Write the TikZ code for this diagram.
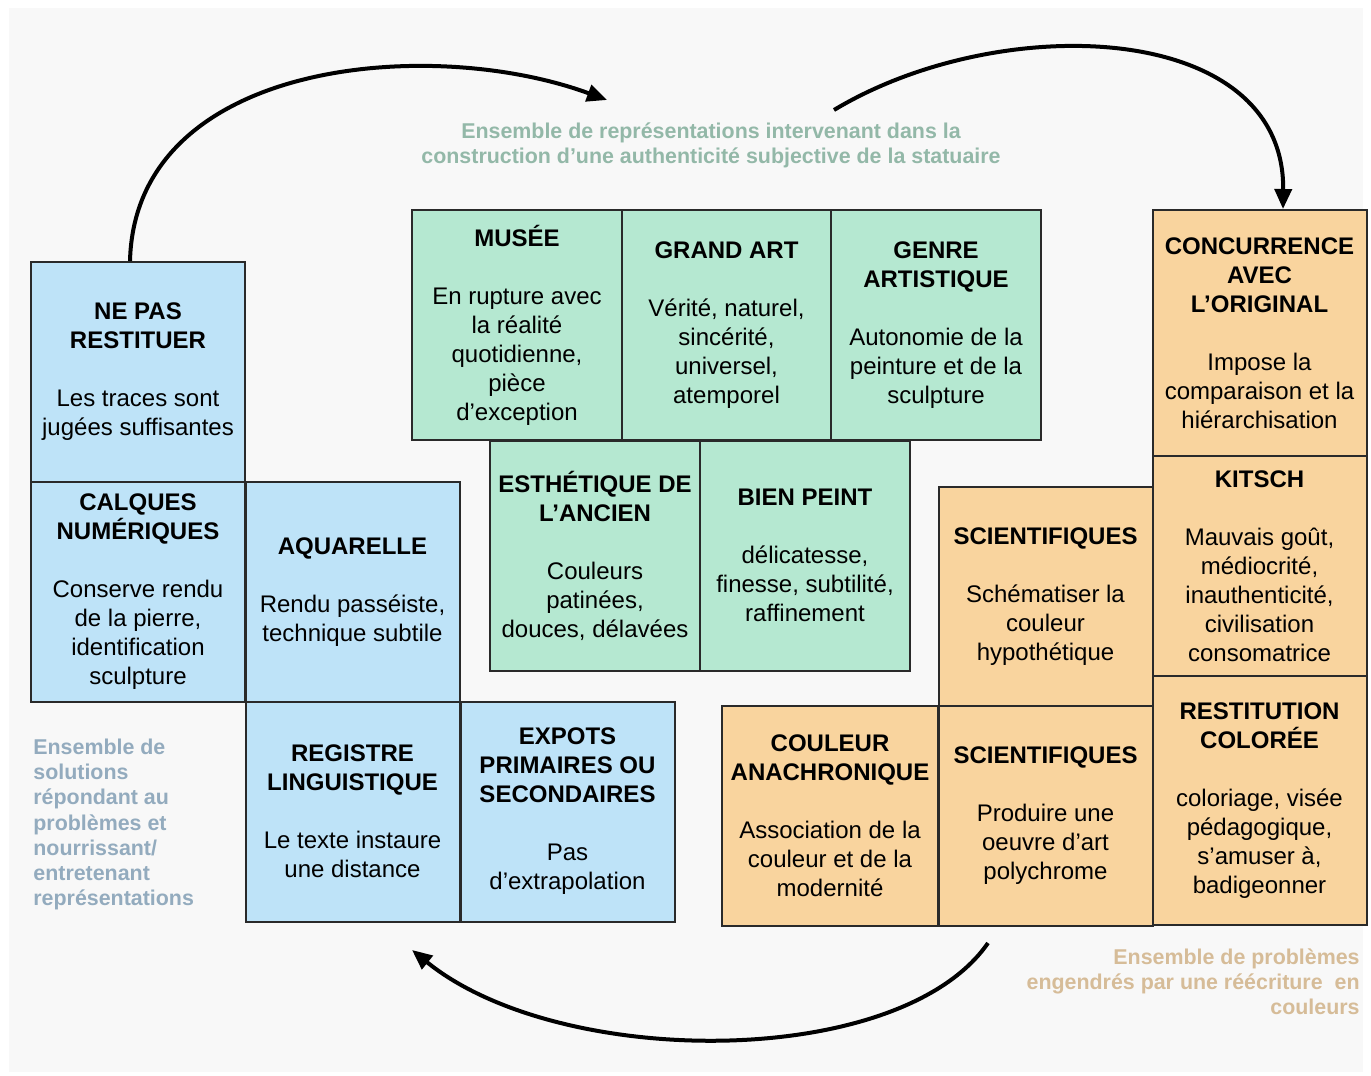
\documentclass[tikz,border=0pt]{standalone}
\usepackage{fontspec}
\setmainfont{Liberation Sans}
\usepackage{tikz}
\usetikzlibrary{arrows.meta}
\definecolor{repfill}{HTML}{B5E8D1}
\definecolor{solfill}{HTML}{BEE3F8}
\definecolor{profill}{HTML}{F9D49E}
\definecolor{repcap}{HTML}{93B8A8}
\definecolor{solcap}{HTML}{93ABBE}
\definecolor{procap}{HTML}{D6BC98}
\definecolor{edge}{HTML}{2A2A2A}
\definecolor{paper}{HTML}{F8F8F8}

\begin{document}
\begin{tikzpicture}[
  x=0.5pt, y=-0.5pt,
  every node/.style={font=\fontsize{12}{14.5}\selectfont},
  cellbox/.style={
    draw=edge, line width=1pt, inner sep=0pt, align=center,
    minimum width=105pt, minimum height=110pt,
  },
  repbox/.style={cellbox, fill=repfill, minimum height=115pt},
  solbox/.style={cellbox, fill=solfill, minimum width=107pt},
  probox/.style={cellbox, fill=profill, minimum width=107pt},
  caption/.style={font=\fontsize{10.7}{12.6}\selectfont\bfseries, inner sep=0pt},
  cycle/.style={-{Triangle[length=10pt,width=8.5pt]}, line width=2pt, draw=black},
]
  \useasboundingbox (0,0) rectangle (1371,1076);
  \fill[white] (0,0) rectangle (1371,1076);
  \fill[paper] (9,8) rectangle (1363,1072);

  % representations
  \node[repbox] (musee)      at (517,   325)   {\textbf{MUSÉE}\\[14.5pt]En rupture avec\\la réalité\\quotidienne,\\pièce\\d’exception};
  \node[repbox] (grandart)   at (726.5, 325)   {\textbf{GRAND ART}\\[14.5pt]Vérité, naturel,\\sincérité,\\universel,\\atemporel};
  \node[repbox] (genre)      at (936,   325)   {\textbf{GENRE}\\\textbf{ARTISTIQUE}\\[14.5pt]Autonomie de la\\peinture et de la\\sculpture};
  \node[repbox] (esthetique) at (595,   555.5) {\textbf{ESTHÉTIQUE DE}\\\textbf{L’ANCIEN}\\[14.5pt]Couleurs\\patinées,\\douces, délavées};
  \node[repbox] (bienpeint)  at (805,   555.5) {\textbf{BIEN PEINT}\\[14.5pt]délicatesse,\\finesse, subtilité,\\raffinement};

  % solutions
  \node[solbox] (nepas)     at (138,   372)   {\textbf{NE PAS}\\\textbf{RESTITUER}\\[14.5pt]Les traces sont\\jugées suffisantes};
  \node[solbox] (calques)   at (138,   592)   {\textbf{CALQUES}\\\textbf{NUMÉRIQUES}\\[14.5pt]Conserve rendu\\de la pierre,\\identification\\sculpture};
  \node[solbox] (aquarelle) at (352.5, 592)   {\textbf{AQUARELLE}\\[14.5pt]Rendu passéiste,\\technique subtile};
  \node[solbox] (registre)  at (352.5, 811.5) {\textbf{REGISTRE}\\\textbf{LINGUISTIQUE}\\[14.5pt]Le texte instaure\\une distance};
  \node[solbox] (expots)    at (567.5, 811.5) {\textbf{EXPOTS}\\\textbf{PRIMAIRES OU}\\\textbf{SECONDAIRES}\\[14.5pt]Pas\\d’extrapolation};

  % problemes
  \node[probox, minimum height=123pt]  (concurrence) at (1259.5, 333)   {\textbf{CONCURRENCE}\\\textbf{AVEC}\\\textbf{L’ORIGINAL}\\[14.5pt]Impose la\\comparaison et la\\hiérarchisation};
  \node[probox]                        (kitsch)      at (1259.5, 566)   {\textbf{KITSCH}\\[14.5pt]Mauvais goût,\\médiocrité,\\inauthenticité,\\civilisation\\consomatrice};
  \node[probox]                        (scienta)     at (1045.5, 596.5) {\textbf{SCIENTIFIQUES}\\[14.5pt]Schématiser la\\couleur\\hypothétique};
  \node[probox, minimum height=124.5pt] (restitution) at (1259.5, 800.5) {\textbf{RESTITUTION}\\\textbf{COLORÉE}\\[14.5pt]coloriage, visée\\pédagogique,\\s’amuser à,\\badigeonner};
  \node[probox, minimum width=108pt]   (anachro)     at (830,    815.5) {\textbf{COULEUR}\\\textbf{ANACHRONIQUE}\\[14.5pt]Association de la\\couleur et de la\\modernité};
  \node[probox]                        (scientb)     at (1045.5, 815.5) {\textbf{SCIENTIFIQUES}\\[14.5pt]Produire une\\oeuvre d’art\\polychrome};

  % legends
  \node[caption, text=repcap, align=center] (caprep) at (711, 145.5)
    {Ensemble de représentations intervenant dans la\\construction d’une authenticité subjective de la statuaire};
  \node[caption, text=solcap, align=left, anchor=west] (capsol) at (33, 824.5)
    {Ensemble de\\solutions\\répondant au\\problèmes et\\nourrissant/\\entretenant\\représentations};
  \node[caption, text=procap, align=right, anchor=east] (cappro) at (1360, 982)
    {Ensemble de problèmes\\engendrés par une réécriture\ \ en\\couleurs};

  % cycle
  \coordinate (toprep) at (607, 100);
  \coordinate (fromrep) at (834, 110);
  \coordinate (frompro) at (988, 943);
  \coordinate (tosol) at (412, 950);
  \draw[cycle] ([xshift=-4pt]nepas.north) .. controls (135,60) and (430,35) .. (toprep);
  \draw[cycle] (fromrep) .. controls (1000,10) and (1285,20) .. ([xshift=11.75pt]concurrence.north);
  \draw[cycle] (frompro) .. controls (900,1070) and (560,1070) .. (tosol);
\end{tikzpicture}
\end{document}
